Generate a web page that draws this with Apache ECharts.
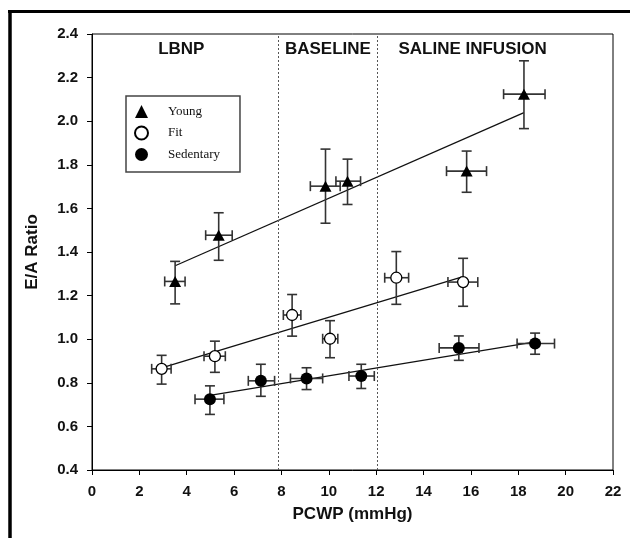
<!DOCTYPE html>
<html>
<head>
<meta charset="utf-8">
<script src="https://cdn.jsdelivr.net/npm/echarts@6/dist/echarts.min.js"></script>
<style>
  html, body { margin: 0; padding: 0; background: #fff; }
  #chart { width: 630px; height: 538px; }
</style>
</head>
<body>
<div id="chart"></div>
<script>
// ---- Data ----
const seriesNames = ['Young', 'Fit', 'Sedentary'];

const youngX   = [3.51, 5.35, 9.86, 10.79, 15.82, 18.24];
const youngY   = [1.265, 1.477, 1.702, 1.725, 1.771, 2.124];
const youngXLo = [3.07, 4.80, 9.22, 10.30, 14.97, 17.38];
const youngXHi = [3.93, 5.92, 10.48, 11.34, 16.66, 19.13];
const youngYLo = [1.162, 1.362, 1.532, 1.618, 1.674, 1.966];
const youngYHi = [1.357, 1.580, 1.872, 1.826, 1.863, 2.277];

const fitX   = [2.94, 5.19, 8.45, 10.05, 12.85, 15.67];
const fitY   = [0.864, 0.922, 1.111, 1.002, 1.282, 1.262];
const fitXLo = [2.52, 4.73, 8.08, 9.74, 12.36, 15.03];
const fitXHi = [3.34, 5.63, 8.82, 10.38, 13.37, 16.29];
const fitYLo = [0.794, 0.848, 1.014, 0.915, 1.160, 1.151];
const fitYHi = [0.926, 0.991, 1.205, 1.085, 1.402, 1.371];

const sedX   = [4.98, 7.13, 9.06, 11.37, 15.49, 18.71];
const sedY   = [0.725, 0.809, 0.820, 0.831, 0.960, 0.980];
const sedXLo = [4.35, 6.60, 8.38, 10.85, 14.66, 17.95];
const sedXHi = [5.57, 7.71, 9.74, 11.92, 16.34, 19.53];
const sedYLo = [0.655, 0.738, 0.769, 0.774, 0.903, 0.931];
const sedYHi = [0.786, 0.885, 0.869, 0.885, 1.015, 1.028];

// regression lines (end points)
const youngLineX = [3.51, 18.24];
const youngLineY = [1.337, 2.039];
const fitLineX   = [2.94, 15.67];
const fitLineY   = [0.868, 1.287];
const sedLineX   = [4.98, 18.71];
const sedLineY   = [0.742, 0.988];

// phase dividers and labels
const dividerX = [7.87, 12.06];
const phaseLabels = ['LBNP', 'BASELINE', 'SALINE INFUSION'];
const phaseLabelX = [3.77, 9.96, 16.07];
const phaseLabelY = 2.33;

const xTicks = { min: 0, max: 22, interval: 2 };
const yTicks = { min: 0.4, max: 2.4, interval: 0.2 };

// ---- Chart ----
const chart = echarts.init(document.getElementById('chart'), null, { renderer: 'canvas' });

function pairs(xs, ys) { return xs.map((x, i) => [x, ys[i]]); }
function errData(xs, ys, xlo, xhi, ylo, yhi) {
  return xs.map((x, i) => [x, ys[i], xlo[i], xhi[i], ylo[i], yhi[i]]);
}
function errRender(params, api) {
  const x = api.value(0), y = api.value(1);
  const l = api.coord([api.value(2), y]);
  const r = api.coord([api.value(3), y]);
  const b = api.coord([x, api.value(4)]);
  const t = api.coord([x, api.value(5)]);
  const cap = 5;
  const st = { stroke: '#333', lineWidth: 1.6 };
  const ln = (x1, y1, x2, y2) => ({ type: 'line', shape: { x1, y1, x2, y2 }, style: st });
  return {
    type: 'group',
    children: [
      ln(l[0], l[1], r[0], r[1]),
      ln(l[0], l[1] - cap, l[0], l[1] + cap),
      ln(r[0], r[1] - cap, r[0], r[1] + cap),
      ln(t[0], t[1], b[0], b[1]),
      ln(t[0] - cap, t[1], t[0] + cap, t[1]),
      ln(b[0] - cap, b[1], b[0] + cap, b[1])
    ]
  };
}

const FONT = 'Liberation Sans, Arial, sans-serif';

const option = {
  animation: false,
  backgroundColor: '#fff',
  grid: { left: 92, right: 17, top: 34, bottom: 68, show: true, borderColor: '#000', borderWidth: 1 },
  xAxis: {
    type: 'value', min: xTicks.min, max: xTicks.max, interval: xTicks.interval,
    name: 'PCWP (mmHg)', nameLocation: 'middle', nameGap: 36,
    nameTextStyle: { fontFamily: FONT, fontWeight: 'bold', fontSize: 17, color: '#111' },
    axisLine: { show: true, lineStyle: { color: '#000', width: 1 } },
    axisTick: { show: true, inside: false, length: 5, lineStyle: { color: '#000' } },
    axisLabel: { fontFamily: FONT, fontWeight: 'bold', fontSize: 15, color: '#111', margin: 14 },
    splitLine: { show: false }
  },
  yAxis: {
    type: 'value', min: yTicks.min, max: yTicks.max, interval: yTicks.interval,
    name: 'E/A Ratio', nameLocation: 'middle', nameGap: 51, nameRotate: 90,
    nameTextStyle: { fontFamily: FONT, fontWeight: 'bold', fontSize: 17, color: '#111' },
    axisLine: { show: true, lineStyle: { color: '#000', width: 1 } },
    axisTick: { show: true, inside: false, length: 5, lineStyle: { color: '#000' } },
    axisLabel: { fontFamily: FONT, fontWeight: 'bold', fontSize: 15, color: '#111', margin: 14,
      formatter: v => v.toFixed(1) },
    splitLine: { show: false }
  },
  legend: {
    data: seriesNames,
    orient: 'vertical',
    left: 126, top: 96,
    padding: [9, 20, 11, 8],
    itemGap: 7.5,
    itemWidth: 13, itemHeight: 13,
    borderColor: '#444', borderWidth: 1.5,
    textStyle: { fontFamily: 'Liberation Serif, Times New Roman, serif', fontSize: 13, color: '#111',
      padding: [0, 0, 0, 15] }
  },
  graphic: [
    { type: 'line', shape: { x1: 8, y1: 11.5, x2: 630, y2: 11.5 }, style: { stroke: '#000', lineWidth: 3 } },
    { type: 'line', shape: { x1: 10, y1: 10, x2: 10, y2: 538 }, style: { stroke: '#000', lineWidth: 3.5 } }
  ],
  series: [
    // dividers + phase labels
    {
      type: 'line', data: [], silent: true,
      markLine: {
        symbol: 'none', silent: true, animation: false,
        label: { show: false },
        lineStyle: { type: [2, 2], color: '#555', width: 1 },
        data: dividerX.map(v => ({ xAxis: v }))
      },
      markPoint: {
        symbol: 'circle', symbolSize: 0, silent: true,
        label: { show: true, position: 'inside', fontFamily: FONT, fontWeight: 'bold', fontSize: 17, color: '#111',
          formatter: p => p.name },
        data: phaseLabels.map((n, i) => ({ name: n, coord: [phaseLabelX[i], phaseLabelY] }))
      }
    },
    // regression lines
    { type: 'line', data: pairs(youngLineX, youngLineY), showSymbol: false, symbol: 'none', lineStyle: { color: '#111', width: 1.3 }, z: 3 },
    { type: 'line', data: pairs(fitLineX, fitLineY), showSymbol: false, symbol: 'none', lineStyle: { color: '#111', width: 1.3 }, z: 3 },
    { type: 'line', data: pairs(sedLineX, sedLineY), showSymbol: false, symbol: 'none', lineStyle: { color: '#111', width: 1.3 }, z: 3 },
    // error bars
    { type: 'custom', renderItem: errRender, data: errData(youngX, youngY, youngXLo, youngXHi, youngYLo, youngYHi), encode: { x: 0, y: 1 }, z: 4 },
    { type: 'custom', renderItem: errRender, data: errData(fitX, fitY, fitXLo, fitXHi, fitYLo, fitYHi), encode: { x: 0, y: 1 }, z: 4 },
    { type: 'custom', renderItem: errRender, data: errData(sedX, sedY, sedXLo, sedXHi, sedYLo, sedYHi), encode: { x: 0, y: 1 }, z: 4 },
    // markers
    { name: 'Young', type: 'scatter', data: pairs(youngX, youngY), symbol: 'triangle', symbolSize: [12, 11],
      itemStyle: { color: '#000', opacity: 1 }, z: 5 },
    { name: 'Fit', type: 'scatter', data: pairs(fitX, fitY), symbol: 'circle', symbolSize: 11,
      itemStyle: { color: '#fff', borderColor: '#000', borderWidth: 1.3, opacity: 1 }, z: 5 },
    { name: 'Sedentary', type: 'scatter', data: pairs(sedX, sedY), symbol: 'circle', symbolSize: 12,
      itemStyle: { color: '#000', opacity: 1 }, z: 5 }
  ]
};
chart.setOption(option);
</script>
</body>
</html>
